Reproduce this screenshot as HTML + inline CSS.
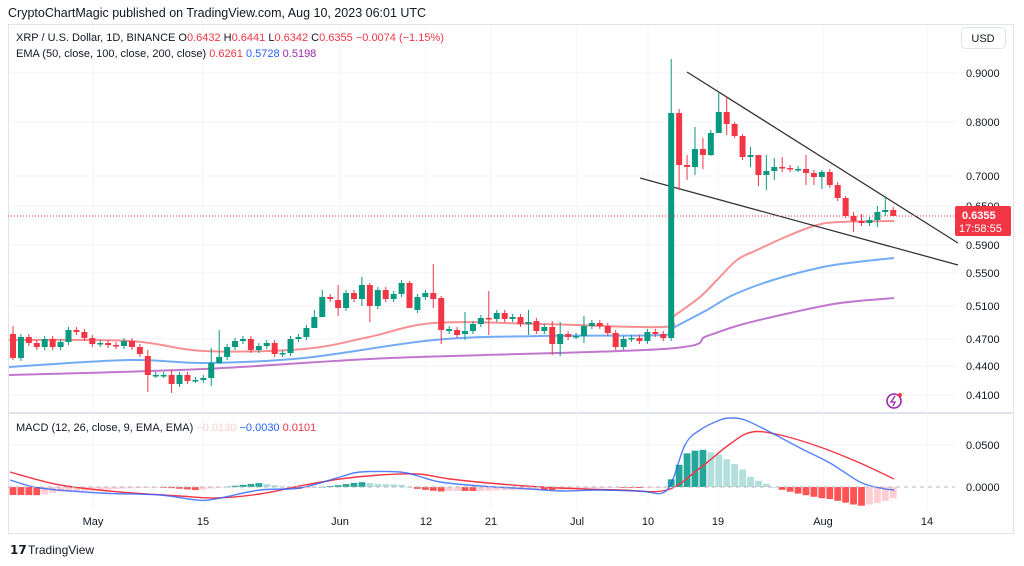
<!DOCTYPE html>
<html><head><meta charset="utf-8"><style>
body{margin:0;background:#fff;width:1024px;height:566px;overflow:hidden;font-family:"Liberation Sans",sans-serif;}
svg{position:absolute;left:0;top:0}
</style></head><body>
<svg id="s" width="1024" height="566" xmlns="http://www.w3.org/2000/svg" font-family="Liberation Sans, sans-serif">
<text x="8" y="17" font-size="12.5" fill="#131722">CryptoChartMagic published on TradingView.com, Aug 10, 2023 06:01 UTC</text>
<rect x="8.5" y="24.5" width="1005" height="509" fill="none" stroke="#e0e3eb"/>
<line x1="8" y1="413" x2="1013" y2="413" stroke="#e0e3eb" stroke-width="2"/>
<g id="grid"></g>
<g id="ema"></g>
<line x1="640" y1="178" x2="958" y2="265" stroke="#333" stroke-width="1.3"/>
<line x1="687" y1="72" x2="958" y2="243" stroke="#333" stroke-width="1.3"/>
<g id="c"></g>
<line x1="8" y1="216" x2="955" y2="216" stroke="#f23645" stroke-dasharray="1,2" stroke-width="1"/>
<g id="m"></g>
<line x1="8" y1="487" x2="955" y2="487" stroke="#b2b5be" stroke-dasharray="4,4" stroke-width="1"/>
<g font-size="11" fill="#131722">
<text x="16" y="41">XRP / U.S. Dollar, 1D, BINANCE  O<tspan fill="#f23645">0.6432</tspan>  H<tspan fill="#f23645">0.6441</tspan>  L<tspan fill="#f23645">0.6342</tspan>  C<tspan fill="#f23645">0.6355</tspan>  <tspan fill="#f23645">−0.0074 (−1.15%)</tspan></text>
<text x="16" y="57">EMA (50, close, 100, close, 200, close)  <tspan fill="#f23645">0.6261</tspan>  <tspan fill="#2962ff">0.5728</tspan>  <tspan fill="#9c27b0">0.5198</tspan></text>
<text x="16" y="431">MACD (12, 26, close, 9, EMA, EMA)  <tspan fill="#ffcdd2">−0.0130</tspan>  <tspan fill="#2962ff">−0.0030</tspan>  <tspan fill="#f23645">0.0101</tspan></text>
</g>
<rect x="961.5" y="27.5" width="44" height="21" rx="4" fill="#fff" stroke="#e0e3eb"/>
<text x="983" y="42" font-size="11" fill="#131722" text-anchor="middle">USD</text>
<g font-size="11" fill="#131722">
<text x="966" y="77">0.9000</text><text x="966" y="126">0.8000</text><text x="966" y="180">0.7000</text>
<text x="966" y="210">0.6500</text><text x="966" y="249">0.5900</text><text x="966" y="277">0.5500</text>
<text x="966" y="310">0.5100</text><text x="966" y="343">0.4700</text><text x="966" y="370">0.4400</text>
<text x="966" y="399">0.4100</text><text x="966" y="449">0.0500</text><text x="966" y="491">0.0000</text>
</g>
<rect x="955" y="206" width="56" height="30" rx="2" fill="#f23645"/>
<text x="962" y="219" font-size="11" fill="#fff" font-weight="bold">0.6355</text>
<text x="959" y="232" font-size="11" fill="#fff">17:58:55</text>
<g font-size="11" fill="#131722" text-anchor="middle">
<text x="93" y="525">May</text><text x="203" y="525">15</text><text x="340" y="525">Jun</text><text x="426" y="525">12</text><text x="491" y="525">21</text><text x="577" y="525">Jul</text><text x="648" y="525">10</text><text x="718" y="525">19</text><text x="823" y="525">Aug</text><text x="927" y="525">14</text>
</g>
<circle cx="894" cy="401" r="7" fill="none" stroke="#9c27b0" stroke-width="1.6"/>
<path d="M895 396 L891 402 L895 402 L893 406" fill="none" stroke="#9c27b0" stroke-width="1.3"/>
<circle cx="900" cy="395" r="2" fill="#f23645"/>
<text x="10" y="554" font-size="12" font-weight="bold" fill="#131722">𝟭𝟳</text>
<text x="28" y="554" font-size="12" fill="#131722">TradingView</text>
</svg>
<script>
const NS="http://www.w3.org/2000/svg";
function el(p,t,a){const e=document.createElementNS(NS,t);for(const k in a)e.setAttribute(k,a[k]);document.getElementById(p).appendChild(e);return e;}
[73,122,176,206,245,273,306,339,366,395,445].forEach(y=>el('grid','line',{x1:9,x2:955,y1:y,y2:y,stroke:'#f0f3fa'}));
[93,203,340,426,491,577,648,718,823,927].forEach(x=>el('grid','line',{x1:x,x2:x,y1:25,y2:510,stroke:'#f0f3fa'}));
const oc=[[334,358],[358,337],[337,343],[343,347],[347,339],[339,347],[347,342],[342,330],[330,332],[332,338],[338,344],[344,343],[343,345],[345,346],[346,341],[341,347],[347,354],[356,375],[375,375],[375,375],[375,384],[384,375],[375,381],[380,380],[380,378],[378,363],[363,357],[357,347],[347,341],[341,339],[339,350],[350,346],[346,343],[343,354],[354,353],[353,339],[339,337],[337,328],[328,317],[317,297],[297,299],[300,308],[308,293],[293,299],[299,285],[285,306],[306,290],[290,299],[299,294],[294,283],[283,308],[310,297],[297,293],[293,299],[298,330],[331,329],[330,335],[334,331],[331,324],[324,318],[318,319],[319,313],[313,319],[319,317],[317,324],[324,322],[321,331],[331,327],[327,344],[344,334],[334,337],[336,336],[336,326],[326,323],[323,326],[326,333],[333,347],[347,339],[339,338],[338,341],[341,332],[332,334],[334,338],[338,113],
[113,165],[165,167],[167,149],[149,155],[155,133],[133,112],[112,124],[124,136],[136,157],[157,155],[155,175],[175,171],[171,167],[167,168],[168,169],[169,169],[169,173],[173,177],[177,172],[172,185],[185,198],[198,216],[216,221],[221,223],[223,220],[220,212],[212,210],[210,216]];
const wk={0:[326,360],17:[350,392],20:[370,393],25:[348,386],26:[330,364],38:[310,319],39:[290,299],41:[285,316],44:[277,306],45:[283,322],50:[281,308],53:[264,308],54:[296,344],57:[312,340],60:[291,335],65:[310,335],68:[321,355],69:[322,356],72:[316,343],83:[59,341],84:[109,190],85:[155,180],86:[127,175],87:[138,169],88:[130,156],89:[93,113],90:[97,135],91:[122,138],92:[134,160],93:[147,167],94:[155,186],95:[155,190],96:[158,180],97:[157,172],100:[155,185],101:[170,185],102:[170,189],105:[196,218],106:[212,232],107:[214,226],109:[206,227],110:[196,216],111:[207,216]};
oc.forEach((d,i)=>{const x=13+7.93*i;const [o,c]=d;const up=c<=o;const col=up?'#089981':'#f23645';
 let hi=Math.min(o,c)-3,lo=Math.max(o,c)+3;if(wk[i]){hi=wk[i][0];lo=wk[i][1];}
 el('c','line',{x1:x,x2:x,y1:hi,y2:lo,stroke:col,'stroke-width':1});
 const t=Math.min(o,c),h=Math.max(1.5,Math.abs(o-c));el('c','rect',{x:x-3,y:t,width:6,height:h,fill:col});});
function smooth(pts){let d='M'+pts[0][0]+' '+pts[0][1];for(let i=0;i<pts.length-1;i++){const p0=pts[Math.max(0,i-1)],p1=pts[i],p2=pts[i+1],p3=pts[Math.min(pts.length-1,i+2)];
 const c1=[p1[0]+(p2[0]-p0[0])/6,p1[1]+(p2[1]-p0[1])/6],c2=[p2[0]-(p3[0]-p1[0])/6,p2[1]-(p3[1]-p1[1])/6];d+=' C'+c1.join(' ')+' '+c2.join(' ')+' '+p2.join(' ');}return d;}
function pl(g,pts,col,w,op){el(g,'path',{d:smooth(pts),fill:'none',stroke:col,'stroke-width':w,'stroke-opacity':op||1,'stroke-linejoin':'round'});}
pl('ema',[[9,340],[130,341],[204,351],[304,349],[369,337],[434,323],[542,324],[663,327],[673,317],[700,297],[717,280],[737,260],[757,250],[790,235],[817,225],[840,222],[894,221]],'#f77c80',2,0.85);
pl('ema',[[9,367],[130,360],[204,363],[304,358],[434,340],[542,336],[663,335],[673,328],[707,310],[733,295],[773,280],[823,267],[857,262],[894,258]],'#5b9cf6',2,0.85);
pl('ema',[[9,375],[204,369],[390,358],[663,349],[707,336],[740,325],[790,313],[840,303],[894,298]],'#ba68c8',2,0.9);
const B=[[10,480],[40,488],[100,493],[160,495],[196,500],[215,499],[260,490],[300,488],[340,477],[360,472],[400,472],[418,476],[440,482],[480,486],[530,489],[560,491],[600,490],[640,491],[667,490],[685,445],[700,430],[720,420],[731,418],[745,420],[770,432],[800,448],[830,463],[860,482],[880,488],[894,490]];
const R=[[10,472],[60,485],[120,492],[180,496],[216,498],[260,494],[300,486],[340,479],[380,475],[418,474],[450,479],[500,484],[560,488],[620,490],[667,490],[700,468],[730,444],[752,432],[780,435],[820,447],[860,463],[894,479]];
function itp(a,x){for(let i=1;i<a.length;i++)if(x<=a[i][0]){const[x0,y0]=a[i-1],[x1,y1]=a[i];return y0+(y1-y0)*(x-x0)/(x1-x0);}return a[a.length-1][1];}
let prev=0;
for(let i=0;i<112;i++){const x=13+7.93*i;const h=itp(R,Math.max(10,x))-itp(B,Math.max(10,x));
 let col;if(h>=0)col=h>=prev?'#26a69a':'#b2dfdb';else col=h<=prev?'#ff5252':'#ffcdd2';prev=h;
 el('m','rect',{x:x-3.4,y:h>=0?487-h:487,width:6.8,height:Math.max(0.8,Math.abs(h)),fill:col});}
pl('m',R,'#f23645',1.4);pl('m',B,'#2962ff',1.4,0.8);
</script>
</body></html>
